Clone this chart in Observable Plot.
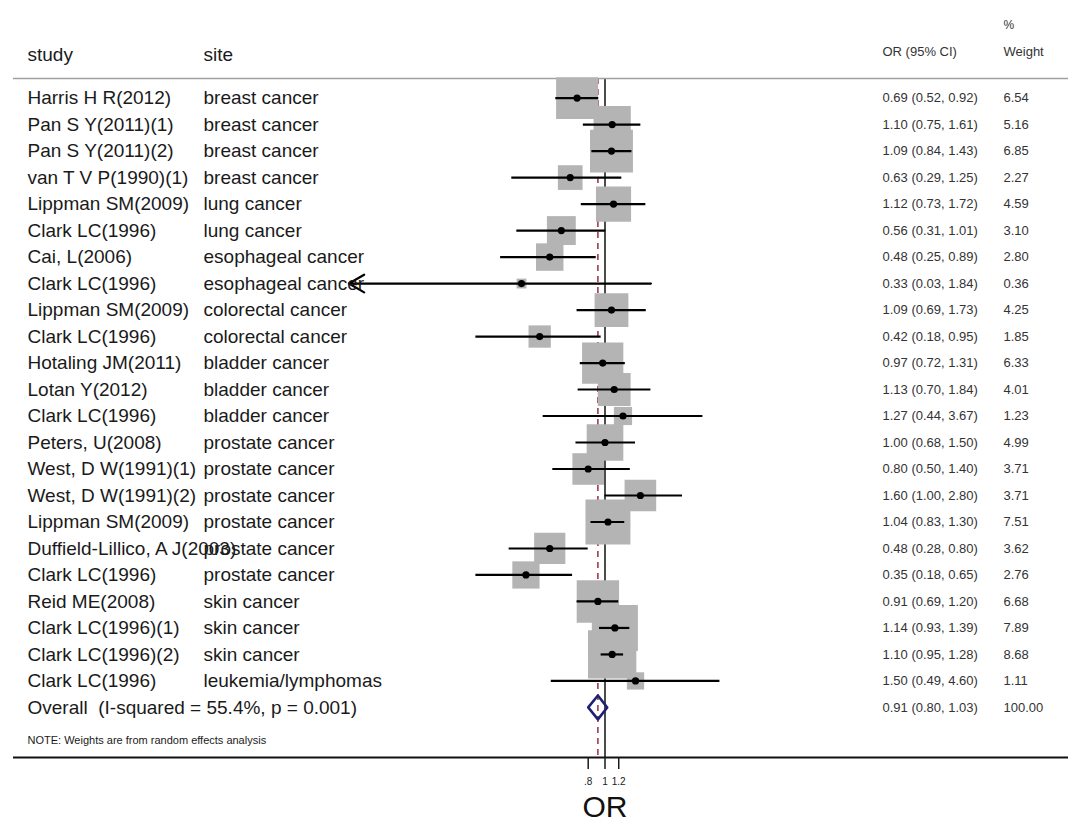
<!DOCTYPE html>
<html>
<head>
<meta charset="utf-8">
<script src="https://cdn.jsdelivr.net/npm/d3@7"></script>
<script src="https://cdn.jsdelivr.net/npm/@observablehq/plot@0.6"></script>
<style>
  html, body { margin: 0; padding: 0; background: #fff; }
  #chart svg { display: block; }
</style>
</head>
<body>
<div id="chart"></div>
<script>
// ---- data ----
const studies = [
  "Harris H R(2012)", "Pan S Y(2011)(1)", "Pan S Y(2011)(2)", "van T V P(1990)(1)",
  "Lippman SM(2009)", "Clark LC(1996)", "Cai, L(2006)", "Clark LC(1996)",
  "Lippman SM(2009)", "Clark LC(1996)", "Hotaling JM(2011)", "Lotan Y(2012)",
  "Clark LC(1996)", "Peters, U(2008)", "West, D W(1991)(1)", "West, D W(1991)(2)",
  "Lippman SM(2009)", "Duffield-Lillico, A J(2003)", "Clark LC(1996)", "Reid ME(2008)",
  "Clark LC(1996)(1)", "Clark LC(1996)(2)", "Clark LC(1996)"
];
const sites = [
  "breast cancer", "breast cancer", "breast cancer", "breast cancer",
  "lung cancer", "lung cancer", "esophageal cancer", "esophageal cancer",
  "colorectal cancer", "colorectal cancer", "bladder cancer", "bladder cancer",
  "bladder cancer", "prostate cancer", "prostate cancer", "prostate cancer",
  "prostate cancer", "prostate cancer", "prostate cancer", "skin cancer",
  "skin cancer", "skin cancer", "leukemia/lymphomas"
];
const orValues = [0.69, 1.10, 1.09, 0.63, 1.12, 0.56, 0.48, 0.33, 1.09, 0.42, 0.97, 1.13,
                  1.27, 1.00, 0.80, 1.60, 1.04, 0.48, 0.35, 0.91, 1.14, 1.10, 1.50];
const ciLow    = [0.52, 0.75, 0.84, 0.29, 0.73, 0.31, 0.25, 0.03, 0.69, 0.18, 0.72, 0.70,
                  0.44, 0.68, 0.50, 1.00, 0.83, 0.28, 0.18, 0.69, 0.93, 0.95, 0.49];
const ciHigh   = [0.92, 1.61, 1.43, 1.25, 1.72, 1.01, 0.89, 1.84, 1.73, 0.95, 1.31, 1.84,
                  3.67, 1.50, 1.40, 2.80, 1.30, 0.80, 0.65, 1.20, 1.39, 1.28, 4.60];
const weights  = [6.54, 5.16, 6.85, 2.27, 4.59, 3.10, 2.80, 0.36, 4.25, 1.85, 6.33, 4.01,
                  1.23, 4.99, 3.71, 3.71, 7.51, 3.62, 2.76, 6.68, 7.89, 8.68, 1.11];

const overallLabel = "Overall\u00a0\u00a0(I-squared = 55.4%, p = 0.001)";
const overallOR = 0.91, overallLow = 0.80, overallHigh = 1.03, overallWeight = 100.00;

const tickValues = [0.8, 1, 1.2];
const nullValue = 1;
const axisDomain = [1 / 30, 30];          // symmetric log range of the plot region
const noteText = "NOTE: Weights are from random effects analysis";
const headers = { study: "study", site: "site", ci: "OR (95% CI)", pct: "%", weight: "Weight", axis: "OR" };

// ---- derived tables ----
const rows = studies.map((s, i) => ({
  row: i, study: s, site: sites[i], or: orValues[i], lo: ciLow[i], hi: ciHigh[i], w: weights[i]
}));
const unclipped = rows.filter(d => d.lo >= axisDomain[0]);
const clipped = rows.filter(d => d.lo < axisDomain[0]);
const overallRow = rows.length;
const textRows = [...rows, {
  row: overallRow, study: overallLabel, site: "", or: overallOR, lo: overallLow, hi: overallHigh, w: overallWeight
}];
const diamondHalf = 0.45;
const diamond = [
  { x: overallLow, y: overallRow },
  { x: overallOR, y: overallRow - diamondHalf },
  { x: overallHigh, y: overallRow },
  { x: overallOR, y: overallRow + diamondHalf },
  { x: overallLow, y: overallRow }
];
const yDomain = [-0.74, 24.89];

const fmtCI = d => `${d.or.toFixed(2)} (${d.lo.toFixed(2)}, ${d.hi.toFixed(2)})`;
const fmtTick = d => (d < 1 ? String(d).replace(/^0/, "") : String(d));

const font = "Arial, 'Liberation Sans', Helvetica, sans-serif";
const big = 19, small = 13;

const chart = Plot.plot({
  width: 1069,
  height: 829,
  marginLeft: 13,
  marginRight: 1,
  marginTop: 78,
  marginBottom: 72,
  style: { fontFamily: font, background: "#fff", color: "#1a1a1a", overflow: "visible" },
  x: { type: "log", domain: axisDomain, range: [348.4, 860.6] },
  y: { domain: yDomain, reverse: true, axis: null },
  r: { type: "sqrt", domain: [0, 10], range: [0, 29.26] },
  marks: [
    // reference lines
    Plot.ruleX([overallOR], { x: d => d, stroke: "#9e3b4b", strokeWidth: 1.6, strokeDasharray: "6,5" }),
    Plot.ruleX([nullValue], { x: d => d, stroke: "#111", strokeWidth: 1.5 }),
    // header separator and axis line
    Plot.ruleY([yDomain[0]], { y: d => d, stroke: "#a0a0a0", strokeWidth: 1.5 }),
    Plot.ruleY([yDomain[1]], { y: d => d, stroke: "#111", strokeWidth: 2 }),
    // weight boxes
    Plot.dot(rows, { x: "or", y: "row", r: "w", symbol: "square", fill: "#b4b4b4", stroke: null }),
    // confidence intervals
    Plot.ruleY(unclipped, { y: "row", x1: "lo", x2: "hi", stroke: "#000", strokeWidth: 2.2 }),
    Plot.arrow(clipped, {
      x1: "hi", x2: () => axisDomain[0], y1: "row", y2: "row",
      stroke: "#000", strokeWidth: 2.2, headLength: 12, bend: 0
    }),
    // point estimates
    Plot.dot(rows, { x: "or", y: "row", r: 3.6, fill: "#000", stroke: null }),
    // overall diamond
    Plot.line(diamond, { x: "x", y: "y", stroke: "#1f1f78", strokeWidth: 2.6, curve: "linear" }),
    // text columns
    Plot.text(textRows, { y: "row", text: "study", frameAnchor: "left", dx: 14, textAnchor: "start", fontSize: big, fill: "#1a1a1a" }),
    Plot.text(textRows, { y: "row", text: "site", frameAnchor: "left", dx: 190, textAnchor: "start", fontSize: big, fill: "#1a1a1a" }),
    Plot.text(textRows, { y: "row", text: fmtCI, frameAnchor: "left", dx: 869, textAnchor: "start", fontSize: small, fill: "#333" }),
    Plot.text(textRows, { y: "row", text: d => d.w.toFixed(2), frameAnchor: "left", dx: 990, textAnchor: "start", fontSize: small, fill: "#333" }),
    // headers
    Plot.text([headers.study], { text: d => d, frameAnchor: "top-left", dx: 14, dy: -31, textAnchor: "start", fontSize: big, fill: "#1a1a1a" }),
    Plot.text([headers.site], { text: d => d, frameAnchor: "top-left", dx: 190, dy: -31, textAnchor: "start", fontSize: big, fill: "#1a1a1a" }),
    Plot.text([headers.ci], { text: d => d, frameAnchor: "top-left", dx: 869, dy: -32, textAnchor: "start", fontSize: small, fill: "#333" }),
    Plot.text([headers.pct], { text: d => d, frameAnchor: "top-left", dx: 990, dy: -58, textAnchor: "start", fontSize: small - 1, fill: "#333" }),
    Plot.text([headers.weight], { text: d => d, frameAnchor: "top-left", dx: 990, dy: -32, textAnchor: "start", fontSize: small, fill: "#333" }),
    // note
    Plot.text([noteText], { text: d => d, frameAnchor: "bottom-left", dx: 14, dy: -14, textAnchor: "start", fontSize: 11, fill: "#1a1a1a" }),
    // axis
    Plot.axisX({
      ticks: tickValues, text: fmtTick, tickSize: 12, tickPadding: 8,
      fontSize: 10, label: null, anchor: "bottom", strokeWidth: 1.5, color: "#1a1a1a"
    }),
    Plot.text([nullValue], { x: d => d, text: () => headers.axis, frameAnchor: "bottom", dy: 59, fontSize: 30, fill: "#111" })
  ]
});

document.getElementById("chart").appendChild(chart);
</script>
</body>
</html>
